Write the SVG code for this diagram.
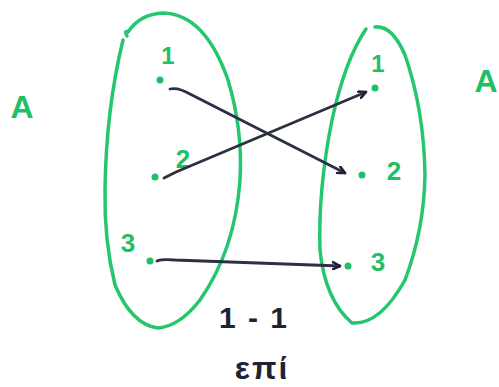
<svg xmlns="http://www.w3.org/2000/svg" width="499" height="387" viewBox="0 0 499 387">
<style>
.set{fill:none;stroke:#25c66f;stroke-width:3.5;stroke-linecap:round;stroke-linejoin:round}
.g{fill:#1fbf68;font-family:"Liberation Sans",Arial,sans-serif;font-weight:bold}
.dot{fill:#1fbf68}
.edge{fill:none;stroke:#2b3042;stroke-width:2.8;stroke-linecap:round}
.k{fill:#1e2333;font-family:"Liberation Sans",Arial,sans-serif;font-weight:bold}
</style>
<defs>
<marker id="ah" viewBox="0 0 10 10" refX="9" refY="5" markerWidth="9" markerHeight="9" orient="auto" markerUnits="userSpaceOnUse">
<path d="M1,1 L9,5 L1,9" fill="none" stroke="#1e2333" stroke-width="2.8" stroke-linecap="round" stroke-linejoin="round"/>
</marker>
</defs>
<rect width="499" height="387" fill="#ffffff"/>
<g id="setA-left">
<path class="set" d="M127,36 Q124,30 128,32 Q140,14 163,13 Q205,14 228,80 Q243,130 240,180 Q235,250 200,300 Q180,326 158,328 Q132,325 115,285 Q104,240 105,190 Q106,110 123,40"/>
<text class="g" x="22" y="118" font-size="32" text-anchor="middle">A</text>
</g>
<g id="left-1"><circle class="dot" cx="160" cy="80" r="3.5"/><text class="g" x="168" y="64" font-size="24" text-anchor="middle">1</text></g>
<g id="left-2"><circle class="dot" cx="155" cy="177" r="3.5"/><text class="g" x="183" y="168" font-size="26" text-anchor="middle">2</text></g>
<g id="left-3"><circle class="dot" cx="150" cy="261" r="3.5"/><text class="g" x="128" y="252" font-size="26" text-anchor="middle">3</text></g>
<g id="setA-right">
<path class="set" d="M366,29 Q345,60 332,120 Q318,190 320,250 Q325,300 352,323 Q380,325 405,280 Q424,230 425,175 Q424,110 405,55 Q392,25 375,27"/>
<text class="g" x="486" y="92" font-size="32" text-anchor="middle">A</text>
</g>
<g id="right-1"><circle class="dot" cx="375" cy="88" r="3.5"/><text class="g" x="378" y="72" font-size="24" text-anchor="middle">1</text></g>
<g id="right-2"><circle class="dot" cx="362" cy="175" r="3.5"/><text class="g" x="394" y="180" font-size="26" text-anchor="middle">2</text></g>
<g id="right-3"><circle class="dot" cx="348" cy="266" r="3.5"/><text class="g" x="378" y="271" font-size="26" text-anchor="middle">3</text></g>
<g id="connectors">
<path class="edge" marker-end="url(#ah)" d="M170,89 Q178,87 190,94 L345,173"/>
<path class="edge" marker-end="url(#ah)" d="M164,178 Q168,176 176,172 L366,92"/>
<path class="edge" marker-end="url(#ah)" d="M157,261 Q162,259 175,260 L340,266"/>
</g>
<text class="k" x="254" y="328" font-size="30" text-anchor="middle" letter-spacing="2">1 - 1</text>
<text class="k" x="262" y="379" font-size="32" text-anchor="middle" letter-spacing="2">επί</text>
</svg>
